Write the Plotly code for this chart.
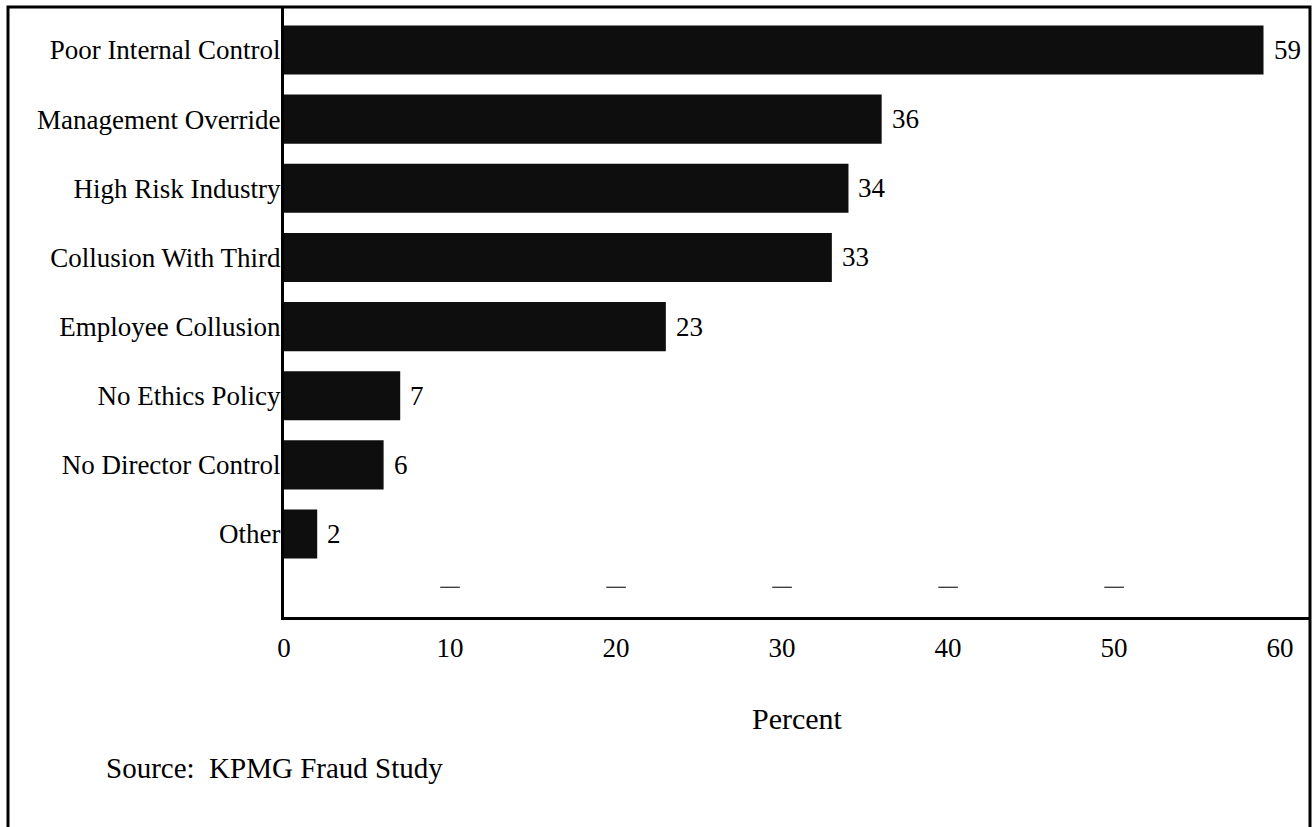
import plotly.graph_objects as go

# Fraud risk factors, share of respondents (%)
categories = [
    "Poor Internal Control",
    "Management Override",
    "High Risk Industry",
    "Collusion With Third",
    "Employee Collusion",
    "No Ethics Policy",
    "No Director Control",
    "Other",
]
percent = [59, 36, 34, 33, 23, 7, 6, 2]

x_ticks = [0, 10, 20, 30, 40, 50, 60]
x_tick_labels = ["0", "10", "20", "30", "40", "50", "60"]
guide_marks = [10, 20, 30, 40, 50]

FONT = "Liberation Serif, Times New Roman, serif"
W, H = 1314, 827
L, R, T, B = 284, 4, 7, 210

rows = list(range(len(categories)))

fig = go.Figure()
fig.add_trace(go.Bar(
    x=percent,
    y=rows,
    orientation="h",
    width=0.71,
    marker=dict(color="#0e0e0e", line=dict(width=0)),
    hoverinfo="x+y",
    showlegend=False,
))

# short horizontal guide dashes above the axis
fig.add_trace(go.Scatter(
    x=guide_marks,
    y=[7.77] * len(guide_marks),
    mode="markers",
    marker=dict(symbol="line-ew", size=14, line=dict(width=1.2, color="#222")),
    hoverinfo="skip",
    showlegend=False,
))

# value labels next to each bar
for v, r in zip(percent, rows):
    fig.add_annotation(
        x=v, y=r, xref="x", yref="y",
        text=str(v), showarrow=False,
        xanchor="left", yanchor="middle", xshift=8,
        font=dict(family=FONT, size=27, color="black"),
    )

plot_w = W - L - R
plot_h = H - T - B

# outer frame (open at the bottom of the page)
fig.add_shape(
    type="rect", xref="paper", yref="paper",
    x0=(8 - L) / plot_w, x1=(1310 - L) / plot_w,
    y0=(617 - 900) / plot_h, y1=1.0,
    line=dict(color="black", width=3), fillcolor="rgba(0,0,0,0)",
    layer="above",
)

fig.add_annotation(
    xref="paper", yref="paper",
    x=0.5, y=(617 - 718) / plot_h,
    text="Percent", showarrow=False,
    xanchor="center", yanchor="middle",
    font=dict(family=FONT, size=30, color="black"),
)

fig.add_annotation(
    xref="paper", yref="paper",
    x=(104 - L) / plot_w, y=(617 - 768) / plot_h,
    text="Source:\u00a0\u00a0KPMG Fraud Study", showarrow=False,
    xanchor="left", yanchor="middle",
    font=dict(family=FONT, size=29, color="black"),
)

fig.update_layout(
    width=W, height=H,
    margin=dict(l=L, r=R, t=T, b=B, pad=0),
    paper_bgcolor="white", plot_bgcolor="white",
    font=dict(family=FONT, color="black"),
    xaxis=dict(
        range=[0, 61.8],
        tickvals=x_ticks, ticktext=x_tick_labels,
        tickfont=dict(family=FONT, size=27, color="black"),
        ticks="", ticklabelstandoff=5,
        showgrid=False, zeroline=False,
        showline=True, linecolor="black", linewidth=3,
    ),
    yaxis=dict(
        range=[8.20, -0.622],
        tickvals=rows, ticktext=categories,
        tickfont=dict(family=FONT, size=27, color="black"),
        ticks="", ticklabelstandoff=-5,
        showgrid=False, zeroline=False,
        showline=True, linecolor="black", linewidth=3,
    ),
)

fig.write_html("out.html")
